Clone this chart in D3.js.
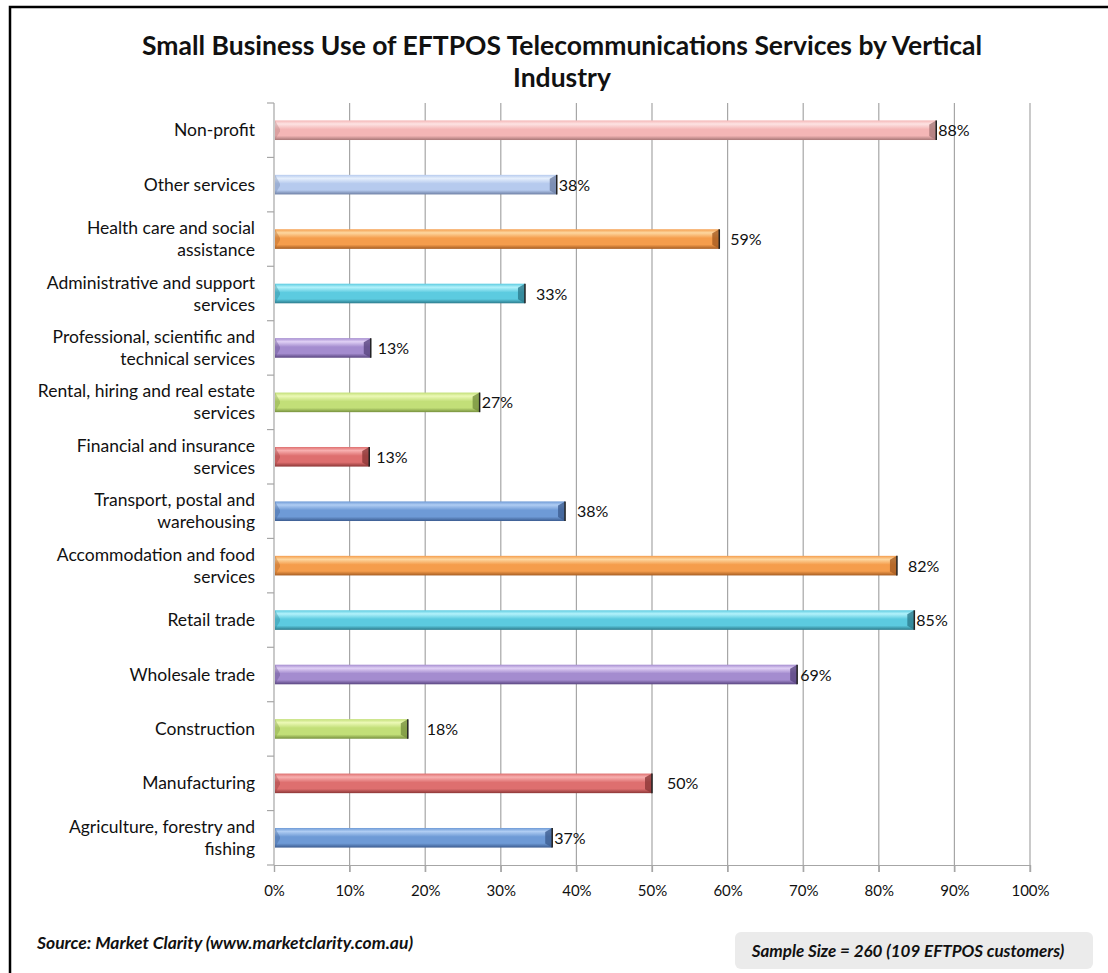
<!DOCTYPE html>
<html>
<head>
<meta charset="utf-8">
<script src="https://cdn.jsdelivr.net/npm/d3@7"></script>
<style>
  body { margin: 0; background: #fff; }
  text { font-family: Lato, "Open Sans", sans-serif; fill: #111; }
</style>
</head>
<body>
<div id="chart"></div>
<script>
// categories, top to bottom (lines split with |)
const industries = [
  "Non-profit",
  "Other services",
  "Health care and social|assistance",
  "Administrative and support|services",
  "Professional, scientific and|technical services",
  "Rental, hiring and real estate|services",
  "Financial and insurance|services",
  "Transport, postal and|warehousing",
  "Accommodation and food|services",
  "Retail trade",
  "Wholesale trade",
  "Construction",
  "Manufacturing",
  "Agriculture, forestry and|fishing"
];
const usage = [87.6, 37.4, 58.9, 33.2, 12.8, 27.2, 12.6, 38.5, 82.4, 84.7, 69.2, 17.7, 50.0, 36.8];
const valueLabels = ["88%", "38%", "59%", "33%", "13%", "27%", "13%", "38%", "82%", "85%", "69%", "18%", "50%", "37%"];
const palette = ["pink", "sky", "orange", "cyan", "purple", "green", "red", "blue", "orange", "cyan", "purple", "green", "red", "blue"];
const xTicks = [0, 10, 20, 30, 40, 50, 60, 70, 80, 90, 100];

// label nudges as Excel placed them (px past bar end)
const labelGap = [1, 1, 10, 10, 6, 1, 6, 11, 10, 1, 2, 18, 14, 1];

const tones = {
  pink:   ["#fde3e3", "#f4b6b6", "#a87878"],
  sky:    ["#e6effc", "#b6caee", "#6e80a5"],
  orange: ["#fdd7a0", "#f59d4c", "#a65d22"],
  cyan:   ["#b2f2fb", "#5ccbe0", "#2c7b8c"],
  purple: ["#e0d0f5", "#a48ccf", "#594580"],
  green:  ["#ecf9b6", "#c2df78", "#77913e"],
  red:    ["#f8b0b0", "#de6f6f", "#8c3737"],
  blue:   ["#b0cdf3", "#6e9ad6", "#3c5c90"]
};

const width = 1108, height = 973;
const margin = {top: 103, right: 78, bottom: 108, left: 274};

const svg = d3.select("#chart").append("svg")
  .attr("width", width)
  .attr("height", height);

const defs = svg.append("defs");
Object.entries(tones).forEach(([k, c]) => {
  const g = defs.append("linearGradient")
    .attr("id", "g-" + k).attr("x1", 0).attr("y1", 0).attr("x2", 0).attr("y2", 1);
  g.append("stop").attr("offset", "0%").attr("stop-color", c[1]);
  g.append("stop").attr("offset", "18%").attr("stop-color", c[0]);
  g.append("stop").attr("offset", "45%").attr("stop-color", c[1]);
  g.append("stop").attr("offset", "78%").attr("stop-color", c[1]);
  g.append("stop").attr("offset", "100%").attr("stop-color", c[2]);
});

// frame
svg.append("path")
  .attr("d", `M10,${height} V7 H${width}`)
  .attr("fill", "none").attr("stroke", "#000").attr("stroke-width", 2.5);

const x = d3.scaleLinear().domain([0, 100]).range([margin.left, width - margin.right]);
const y = d3.scaleBand().domain(industries).range([margin.top, height - margin.bottom]).paddingInner(0.64).paddingOuter(0.32);
const step = y.step();
const y0 = margin.top, y1 = height - margin.bottom;

// title
svg.append("text")
  .attr("x", 562).attr("y", 55)
  .attr("text-anchor", "middle")
  .style("font-size", "26.5px").style("font-weight", "bold")
  .text("Small Business Use of EFTPOS Telecommunications Services by Vertical");
svg.append("text")
  .attr("x", 562).attr("y", 87)
  .attr("text-anchor", "middle")
  .style("font-size", "26.5px").style("font-weight", "bold")
  .text("Industry");

// gridlines
svg.append("g")
  .selectAll("line")
  .data(xTicks.slice(1))
  .join("line")
    .attr("x1", d => x(d)).attr("x2", d => x(d))
    .attr("y1", y0).attr("y2", y1 + 7)
    .attr("stroke", "#a6a6a6").attr("stroke-width", 1.2);

// x axis
const xAxis = svg.append("g")
  .attr("transform", `translate(0,${y1})`)
  .call(d3.axisBottom(x).tickValues(xTicks).tickFormat(d => d + "%").tickSize(7).tickPadding(13));
xAxis.selectAll(".domain, .tick line").attr("stroke", "#a6a6a6").attr("stroke-width", 1.2);
xAxis.selectAll("text").style("font-size", "15px").attr("fill", "#111").style("font-family", "Lato, sans-serif");

// y axis with ticks at band edges
svg.append("line")
  .attr("x1", margin.left).attr("x2", margin.left)
  .attr("y1", y0).attr("y2", y1)
  .attr("stroke", "#a6a6a6").attr("stroke-width", 1.2);
svg.append("g")
  .selectAll("line")
  .data(d3.range(industries.length + 1))
  .join("line")
    .attr("x1", margin.left - 7).attr("x2", margin.left)
    .attr("y1", i => y0 + i * step).attr("y2", i => y0 + i * step)
    .attr("stroke", "#a6a6a6").attr("stroke-width", 1.2);

// category labels
const cat = svg.append("g")
  .selectAll("text")
  .data(industries)
  .join("text")
    .attr("x", margin.left - 19)
    .attr("text-anchor", "end")
    .style("font-size", "17.5px")
    .attr("y", d => y(d) + y.bandwidth() / 2);
cat.each(function(d) {
  const lines = d.split("|");
  const t = d3.select(this);
  lines.forEach((ln, i) => {
    t.append("tspan")
      .attr("x", margin.left - 19)
      .attr("dy", i === 0 ? (6 - (lines.length - 1) * 11) : 22)
      .text(ln);
  });
});

// bars
const bars = svg.append("g")
  .selectAll("g")
  .data(industries)
  .join("g")
    .attr("transform", d => `translate(0,${y(d)})`);
const bh = y.bandwidth();

bars.append("rect")
  .attr("x", x(0) + 1)
  .attr("y", 0)
  .attr("width", (d, i) => x(usage[i]) - x(0) - 1)
  .attr("height", bh)
  .attr("fill", (d, i) => `url(#g-${palette[i]})`);

// left bevel
bars.append("path")
  .attr("d", `M0,0 L5,${bh / 2 - 1} L5,${bh / 2 + 1} L0,${bh} Z`)
  .attr("transform", `translate(${x(0) + 1},0)`)
  .attr("fill", (d, i) => tones[palette[i]][2])
  .attr("opacity", 0.35);

// right cap
bars.append("path")
  .attr("d", (d, i) => {
    const xe = x(usage[i]);
    return `M${xe - 7},4 L${xe},0 L${xe},${bh} L${xe - 7},${bh - 4} Z`;
  })
  .attr("fill", (d, i) => tones[palette[i]][2])
  .attr("opacity", 0.8);
bars.append("line")
  .attr("x1", (d, i) => x(usage[i])).attr("x2", (d, i) => x(usage[i]))
  .attr("y1", 0).attr("y2", bh)
  .attr("stroke", "#222").attr("stroke-width", 1.5);

// value labels
bars.append("text")
  .attr("x", (d, i) => x(usage[i]) + 1 + labelGap[i])
  .attr("y", bh / 2 + 6)
  .style("font-size", "16px")
  .text((d, i) => valueLabels[i]);

// footer
svg.append("text")
  .attr("x", 37).attr("y", 949)
  .style("font-size", "17.5px").style("font-weight", "bold").style("font-style", "italic")
  .text("Source: Market Clarity (www.marketclarity.com.au)");

svg.append("rect")
  .attr("x", 735).attr("y", 932)
  .attr("width", 358).attr("height", 37)
  .attr("rx", 6)
  .attr("fill", "#ebebeb");
svg.append("text")
  .attr("x", 908).attr("y", 957)
  .attr("text-anchor", "middle")
  .style("font-size", "17px").style("font-weight", "bold").style("font-style", "italic")
  .text("Sample Size = 260 (109 EFTPOS customers)");
</script>
</body>
</html>
